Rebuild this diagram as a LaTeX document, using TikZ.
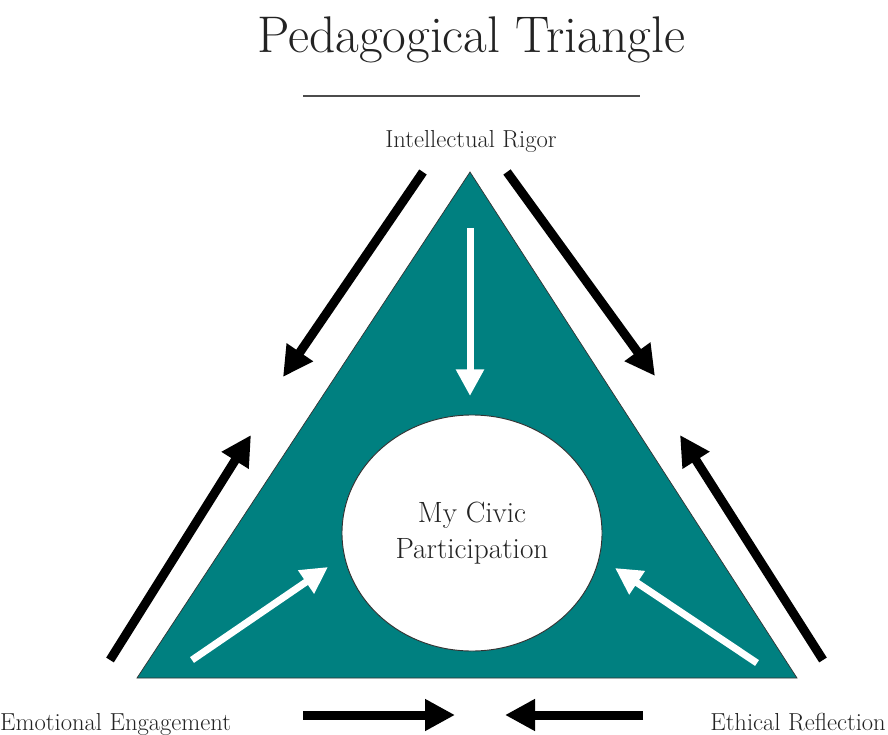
\documentclass[tikz,border=0pt]{standalone}
\usepackage{xcolor}
\usetikzlibrary{arrows.meta, shapes.geometric}
\definecolor{tealfill}{RGB}{0,128,128}
\definecolor{ink}{RGB}{35,35,35}

\begin{document}
\begin{tikzpicture}[x=0.03cm, y=-0.03cm,
  lbl/.style={font=\fontsize{21}{24}\selectfont, text=ink, inner sep=0pt, anchor=base},
  blk/.style={-{Triangle[length=0.9cm, width=0.9cm]}, line width=0.27cm, black},
  wht/.style={-{Triangle[length=0.8cm, width=0.8cm]}, line width=0.21cm, white}]
  \useasboundingbox (0,0) rectangle (888,735);
  \node[font=\fontsize{44}{50}\selectfont, text=ink, inner sep=0pt, anchor=base] (title) at (471,53) {Pedagogical Triangle};
  \coordinate (r1) at (303,96);
  \coordinate (r2) at (640,96);
  \draw[line width=1pt, black!70] (r1) -- (r2);
  \coordinate (apex) at (470,172);
  \coordinate (bl) at (137,678);
  \coordinate (br) at (797,678);
  \draw[fill=tealfill, draw=black!80, line width=0.6pt] (apex) -- (bl) -- (br) -- cycle;
  \node[ellipse, draw=black!80, line width=0.8pt, fill=white, minimum width=7.8cm, minimum height=7.08cm,
        inner sep=0pt, align=center, font=\fontsize{25}{31}\selectfont, text=ink] (civic) at (472,533) {My Civic\\Participation};
  \node[lbl] (rigor) at (471,148) {Intellectual Rigor};
  \node[lbl, anchor=base west] (emotion) at (0,730) {Emotional Engagement};
  \node[lbl, anchor=base east] (ethic) at (886,730) {Ethical Reflection};
  % black arrows round the triangle
  \coordinate (a1) at (423,172); \coordinate (a2) at (283,377);
  \coordinate (b1) at (507,172); \coordinate (b2) at (655,376);
  \coordinate (c1) at (110,660); \coordinate (c2) at (251,435);
  \coordinate (d1) at (823,660); \coordinate (d2) at (680,435);
  \coordinate (e1) at (303,715); \coordinate (e2) at (455,715);
  \coordinate (f1) at (643,715); \coordinate (f2) at (505,715);
  \draw[blk] (a1) -- (a2);
  \draw[blk] (b1) -- (b2);
  \draw[blk] (c1) -- (c2);
  \draw[blk] (d1) -- (d2);
  \draw[blk] (e1) -- (e2);
  \draw[blk] (f1) -- (f2);
  % white arrows into the ellipse
  \coordinate (w1) at (470,228); \coordinate (w2) at (470,396);
  \coordinate (u1) at (192,660); \coordinate (u2) at (328,567);
  \coordinate (v1) at (757,663); \coordinate (v2) at (615,568);
  \draw[wht] (w1) -- (w2);
  \draw[wht] (u1) -- (u2);
  \draw[wht] (v1) -- (v2);
\end{tikzpicture}
\end{document}
